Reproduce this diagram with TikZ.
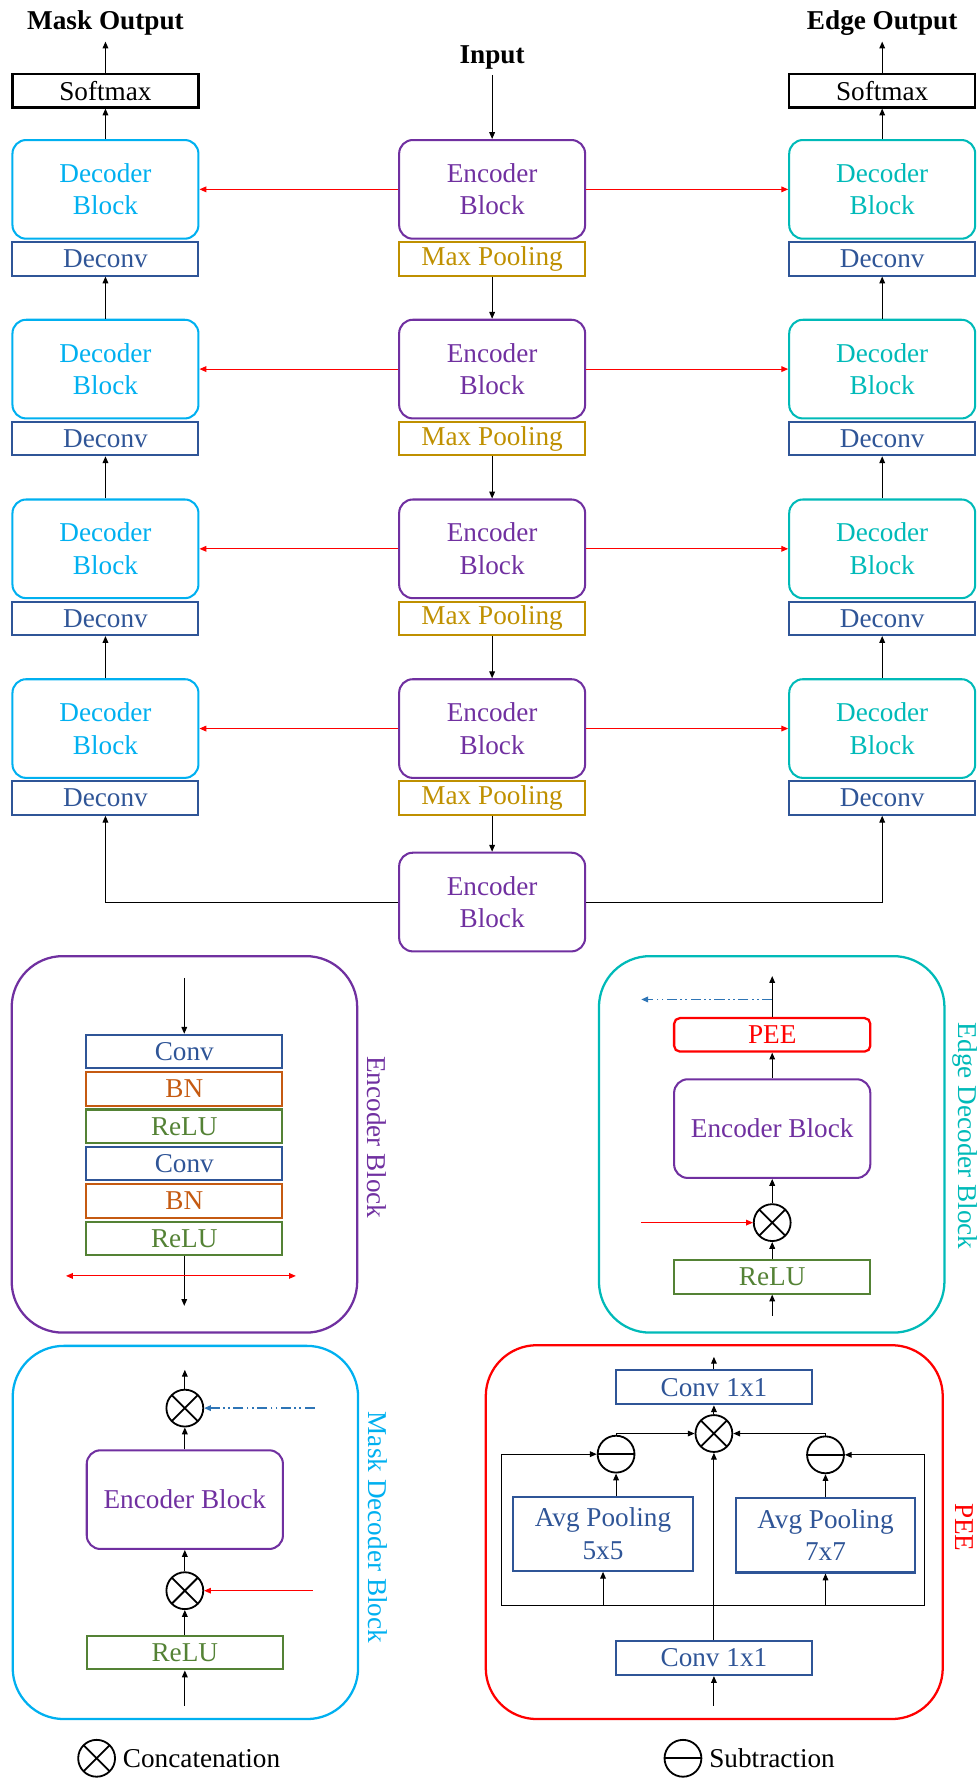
\documentclass[tikz,border=0pt]{standalone}
\usepackage{fontspec}
\setmainfont{Liberation Serif}
\usetikzlibrary{arrows.meta,calc}

\definecolor{mdec}{RGB}{0,176,240}
\definecolor{edec}{RGB}{0,186,184}
\definecolor{encc}{RGB}{112,48,160}
\definecolor{convc}{RGB}{47,85,151}
\definecolor{poolc}{RGB}{191,144,0}
\definecolor{bnc}{RGB}{197,90,17}
\definecolor{reluc}{RGB}{84,130,53}
\definecolor{linkblue}{RGB}{46,117,182}

\begin{document}
\begin{tikzpicture}[x=1pt,y=-1pt,
  font=\fontsize{24}{28.5}\selectfont,
  conn/.style={line width=0.9pt, -{Triangle[length=6pt,width=5pt]}},
  redconn/.style={conn, red},
  dashconn/.style={conn, linkblue, line width=1.2pt,
    dash pattern=on 9pt off 3pt on 1.5pt off 3pt on 1.5pt off 3pt},
  layer/.style={rectangle, draw, line width=1.8pt, inner sep=0pt,
    minimum width=164pt, minimum height=29.5pt, align=center},
  block/.style={layer, rounded corners=12pt, minimum height=87pt},
  inlayer/.style={layer, minimum width=173pt},
  inblock/.style={block, minimum width=173pt},
  panel/.style={line width=2pt, rounded corners=45pt},
  side/.style={rotate=-90, inner sep=0pt},
  op/.style={circle, draw, line width=1.6pt, minimum size=32.5pt, inner sep=0pt},
  concat/.style={op, path picture={\draw[line width=1.6pt]
      (path picture bounding box.south west) -- (path picture bounding box.north east)
      (path picture bounding box.north west) -- (path picture bounding box.south east);}},
  subtr/.style={op, path picture={\draw[line width=1.6pt]
      (path picture bounding box.west) -- (path picture bounding box.east);}},
  title/.style={anchor=base, inner sep=0pt, font=\fontsize{24}{28.5}\selectfont\bfseries},
]
\useasboundingbox (0,0) rectangle (862,1568);

% ---------- overall network ----------
\node[title] (tMask) at (93,26) {Mask Output};
\node[title] (tEdge) at (778,26) {Edge Output};
\node[title] (tIn) at (434,56) {Input};
\coordinate (outL) at (93,36.7);
\coordinate (outR) at (778,36.7);
\coordinate (inTop) at (434,66);

\node[layer, line width=2pt] (smL) at (93,80) {Softmax};
\node[layer, line width=2pt] (smR) at (778,80) {Softmax};

\foreach \r in {0,1,2,3} {
  \pgfmathsetmacro{\yb}{123.5+158.5*\r+43.5}
  \pgfmathsetmacro{\yl}{123.5+158.5*\r+104.75}
  \node[block, mdec] (decL\r) at (93,\yb) {Decoder\\Block};
  \node[block, encc] (enc\r) at (434,\yb) {Encoder\\Block};
  \node[block, edec] (decR\r) at (778,\yb) {Decoder\\Block};
  \node[layer, convc] (dconvL\r) at (93,\yl) {Deconv};
  \node[layer, poolc] (pool\r) at (434,\yl) {Max Pooling};
  \node[layer, convc] (dconvR\r) at (778,\yl) {Deconv};
}
\node[block, encc] (encB) at (434,795.5) {Encoder\\Block};

\draw[conn] (smL.north) -- (outL);
\draw[conn] (smR.north) -- (outR);
\draw[conn] (decL0.north) -- (smL.south);
\draw[conn] (decR0.north) -- (smR.south);
\draw[conn] (inTop) -- (enc0.north);
\foreach \r in {0,1,2,3} {
  \draw[redconn] (enc\r.west) -- (decL\r.east);
  \draw[redconn] (enc\r.east) -- (decR\r.west);
}
\foreach \r/\s in {0/1,1/2,2/3} {
  \draw[conn] (pool\r.south) -- (enc\s.north);
  \draw[conn] (decL\s.north) -- (dconvL\r.south);
  \draw[conn] (decR\s.north) -- (dconvR\r.south);
}
\draw[conn] (pool3.south) -- (encB.north);
\draw[conn] (encB.west) -| (dconvL3.south);
\draw[conn] (encB.east) -| (dconvR3.south);

% ---------- encoder block ----------
\draw[panel, encc] (10.3,843.2) rectangle (315,1175.2);
\node[side, encc] (lblEnc) at (332,1003) {Encoder Block};
\node[inlayer, convc] (eConv1) at (162.5,927.3) {Conv};
\node[inlayer, bnc]   (eBN1)   at (162.5,960.2) {BN};
\node[inlayer, reluc] (eReLU1) at (162.5,993.2) {ReLU};
\node[inlayer, convc] (eConv2) at (162.5,1026.1) {Conv};
\node[inlayer, bnc]   (eBN2)   at (162.5,1059.1) {BN};
\node[inlayer, reluc] (eReLU2) at (162.5,1092) {ReLU};
\coordinate (eIn) at (162.5,862.3);
\coordinate (eOut) at (162.5,1151.6);
\coordinate (eSkipL) at (58.2,1125.2);
\coordinate (eSkipR) at (260.9,1125.2);
\draw[conn] (eIn) -- (eConv1.north);
\draw[conn] (eReLU2.south) -- (eOut);
\draw[red, line width=0.9pt, {Triangle[length=6pt,width=5pt]}-{Triangle[length=6pt,width=5pt]}] (eSkipL) -- (eSkipR);

% ---------- edge decoder block ----------
\draw[panel, edec] (528.2,843.2) rectangle (832.9,1175.2);
\node[side, edec] (lblEdge) at (851,1002) {Edge Decoder Block};
\node[inlayer, red, rounded corners=5pt, line width=2pt] (gPEE) at (681,912.6) {PEE};
\node[inblock, encc] (gEnc) at (681,995.3) {Encoder Block};
\node[concat] (gCat) at (681,1078.2) {};
\node[inlayer, reluc] (gReLU) at (681,1126) {ReLU};
\coordinate (gOut) at (681,860.8);
\coordinate (gTap) at (681,881.4);
\coordinate (gSide) at (565.5,881.4);
\coordinate (gSkip) at (565.5,1078.2);
\coordinate (gIn) at (681,1160.4);
\draw[conn] (gPEE.north) -- (gOut);
\draw[dashconn] (gTap) -- (gSide);
\draw[conn] (gEnc.north) -- (gPEE.south);
\draw[conn] (gCat.north) -- (gEnc.south);
\draw[redconn] (gSkip) -- (gCat.west);
\draw[conn] (gReLU.north) -- (gCat.south);
\draw[conn] (gIn) -- (gReLU.south);

% ---------- mask decoder block ----------
\draw[panel, mdec] (11.2,1186.9) rectangle (315.8,1516);
\node[side, mdec] (lblMask) at (333.4,1347) {Mask Decoder Block};
\node[concat] (mCatT) at (163,1241.8) {};
\node[inblock, encc] (mEnc) at (163,1322.5) {Encoder Block};
\node[concat] (mCatB) at (163,1402.8) {};
\node[inlayer, reluc] (mReLU) at (163,1457.5) {ReLU};
\coordinate (mOut) at (163,1208);
\coordinate (mEdge) at (277.6,1241.8);
\coordinate (mSkip) at (276,1402.8);
\coordinate (mIn) at (163,1504.2);
\draw[conn] (mCatT.north) -- (mOut);
\draw[dashconn] (mEdge) -- (mCatT.east);
\draw[conn] (mEnc.north) -- (mCatT.south);
\draw[conn] (mCatB.north) -- (mEnc.south);
\draw[redconn] (mSkip) -- (mCatB.east);
\draw[conn] (mReLU.north) -- (mCatB.south);
\draw[conn] (mIn) -- (mReLU.south);

% ---------- PEE ----------
\draw[panel, red] (428.4,1186.3) rectangle (831.4,1516);
\node[side, red] (lblPEE) at (850.5,1347) {PEE};
\node[layer, convc, minimum width=173pt, minimum height=30pt] (pConvT) at (629.6,1223.4) {Conv 1x1};
\node[concat] (pCat) at (629.6,1264.2) {};
\node[subtr] (pSubL) at (543.3,1282.4) {};
\node[subtr] (pSubR) at (728,1283) {};
\node[layer, convc, minimum width=158.5pt, minimum height=65.5pt] (pAvg5) at (531.8,1352.5) {Avg Pooling\\5x5};
\node[layer, convc, minimum width=158.5pt, minimum height=65.5pt] (pAvg7) at (728,1354) {Avg Pooling\\7x7};
\node[layer, convc, minimum width=173pt, minimum height=30pt] (pConvB) at (629.6,1462.2) {Conv 1x1};
\coordinate (pOut) at (629.6,1196.6);
\coordinate (pIn) at (629.6,1504.2);
\coordinate (pFL) at (441.9,1416);
\coordinate (pFR) at (815.6,1416);
\draw[conn] (pConvT.north) -- (pOut);
\draw[conn] (pCat.north) -- (pConvT.south);
\draw[conn] (pIn) -- (pConvB.south);
\draw[conn] (pConvB.north) -- (pCat.south);
\draw[line width=0.9pt] (pFL) -- (pFR);
\draw[conn] (pFL) |- (pSubL.west);
\draw[conn] (pFR) |- (pSubR.east);
\draw[conn] (pAvg5.south |- pFL) -- (pAvg5.south);
\draw[conn] (pAvg7.south |- pFR) -- (pAvg7.south);
\draw[conn] (pAvg5.north -| pSubL) -- (pSubL.south);
\draw[conn] (pAvg7.north) -- (pSubR.south);
\draw[conn] (pSubL.north) |- (pCat.west);
\draw[conn] (pSubR.north) |- (pCat.east);

% ---------- legend ----------
\node[concat] (legCat) at (85.2,1550.6) {};
\node[anchor=west, inner sep=0pt, xshift=6pt] (legCatTxt) at (legCat.east) {Concatenation};
\node[subtr] (legSub) at (602.3,1550.6) {};
\node[anchor=west, inner sep=0pt, xshift=6pt] (legSubTxt) at (legSub.east) {Subtraction};
\end{tikzpicture}
\end{document}
